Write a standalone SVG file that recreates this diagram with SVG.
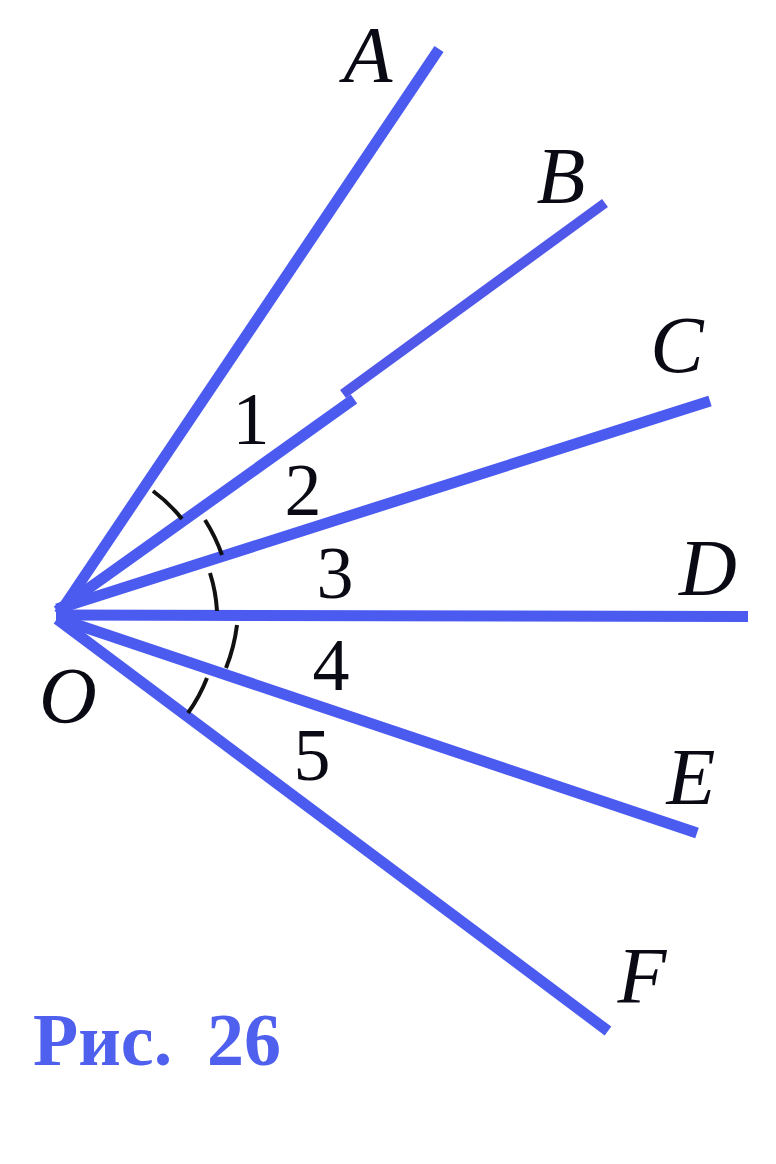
<svg xmlns="http://www.w3.org/2000/svg" width="776" height="1164" viewBox="0 0 776 1164">
<style>
.ray{stroke:#4b5bf0;stroke-width:11;fill:none;stroke-linecap:butt}
.thin{stroke:#5058ea;stroke-width:10}
.arc{stroke:#111;stroke-width:4;fill:none}
.lbl{font-family:"Liberation Serif","Times New Roman",serif;font-style:italic;font-size:80px;fill:#0a0a14;text-anchor:middle}
.num{font-family:"Liberation Serif","Times New Roman",serif;font-size:74px;fill:#0a0a14;text-anchor:middle}
.cap{font-family:"Liberation Serif","Times New Roman",serif;font-weight:bold;font-size:74px;fill:#4f60ee}
</style>
<rect width="776" height="1164" fill="#fff"/>
<g id="connectors">
<line id="rayA" class="ray" x1="59" y1="614" x2="439" y2="49"/>
<line id="rayB1" class="ray" x1="57" y1="611" x2="354" y2="399"/>
<line id="rayB2" class="ray thin" x1="343" y1="394" x2="605" y2="203"/>
<line id="rayC" class="ray" x1="57" y1="609" x2="710" y2="401"/>
<line id="rayD" class="ray" x1="56" y1="615" x2="748" y2="616.5"/>
<line id="rayE" class="ray" x1="57" y1="618" x2="697" y2="833"/>
<line id="rayF" class="ray" x1="57" y1="619" x2="608" y2="1031"/>
</g>
<g id="arcs">
<path class="arc" d="M153,491 A152,152 0 0 1 182,519"/>
<path class="arc" d="M205,520 A170,170 0 0 1 222,555"/>
<path class="arc" d="M210,573 A154,154 0 0 1 217,611"/>
<path class="arc" d="M237,625 A174,174 0 0 1 226,668"/>
<path class="arc" d="M207,678 A160,160 0 0 1 188,713"/>
</g>
<g id="labels">
<text class="lbl" x="368" y="82">A</text>
<text class="lbl" x="561" y="203">B</text>
<text class="lbl" x="677" y="372">C</text>
<text class="lbl" x="708" y="595">D</text>
<text class="lbl" x="691" y="804">E</text>
<text class="lbl" x="642" y="1003">F</text>
<text class="lbl" x="68" y="723">O</text>
</g>
<g id="numbers">
<text class="num" x="251" y="444">1</text>
<text class="num" x="303" y="515">2</text>
<text class="num" x="335" y="598">3</text>
<text class="num" x="331" y="690">4</text>
<text class="num" x="312" y="780">5</text>
</g>
<g id="caption">
<text class="cap" x="33" y="1065">Рис.</text>
<text class="cap" x="207" y="1065">26</text>
</g>
</svg>
